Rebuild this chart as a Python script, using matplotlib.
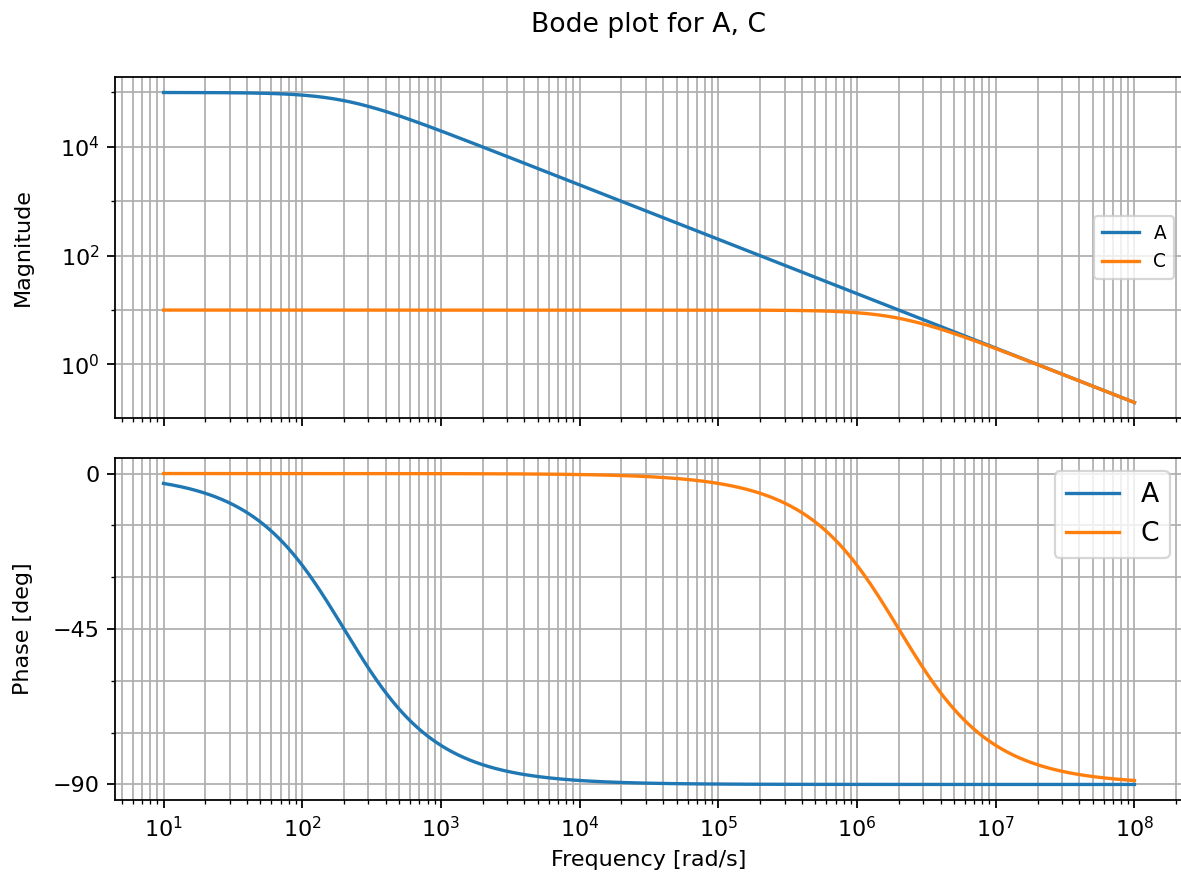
import matplotlib
matplotlib.use("Agg")
import matplotlib.pyplot as plt
import numpy as np
from matplotlib.ticker import MultipleLocator, LogLocator, NullFormatter

# first-order systems: K / (s/p + 1)
names = ["A", "C"]
dc_gain = [1e5, 10.0]
pole_freq = [200.0, 2e6]   # rad/s
colors = ["#1f77b4", "#ff7f0e"]

w_min, w_max = 1e1, 1e8

DPI = 160
W, H = 1181, 886

omega = np.logspace(np.log10(w_min), np.log10(w_max), 1000)

fig = plt.figure(figsize=(W / DPI, H / DPI), dpi=DPI)
ax_mag = fig.add_axes([115 / W, 1 - 418 / H, (1183 - 115) / W, (418 - 77) / H])
ax_phase = fig.add_axes([115 / W, 1 - 800 / H, (1183 - 115) / W, (800 - 458) / H],
                        sharex=ax_mag)

for name, k, p, c in zip(names, dc_gain, pole_freq, colors):
    resp = k / (1j * omega / p + 1)
    ax_mag.loglog(omega, np.abs(resp), color=c, lw=1.5, label=name)
    ax_phase.semilogx(omega, np.degrees(np.angle(resp)), color=c, lw=1.5, label=name)

# magnitude: labels every other decade, grid on the rest
ax_mag.yaxis.set_major_locator(LogLocator(base=100))
ax_mag.yaxis.set_minor_locator(LogLocator(base=10, subs=(1.0,)))
ax_mag.yaxis.set_minor_formatter(NullFormatter())
ax_mag.set_ylabel("Magnitude")
ax_mag.yaxis.set_label_coords((33 - 115) / (1183 - 115), 0.5)
ax_mag.grid(True, which="both")
ax_mag.legend(loc="center right", fontsize="small")
ax_mag.tick_params(labelbottom=False)

ax_phase.set_ylabel("Phase [deg]")
ax_phase.yaxis.set_label_coords((33 - 115) / (1183 - 115), 0.5)
ax_phase.set_xlabel("Frequency [rad/s]")
ax_phase.yaxis.set_major_locator(MultipleLocator(45))
ax_phase.yaxis.set_minor_locator(MultipleLocator(15))
ax_phase.grid(True, which="both")
ax_phase.legend(loc="upper right", fontsize="large")

fig.text(649 / W, 1 - 25 / H, "Bode plot for A, C", ha="center", va="center", fontsize=12)

fig.savefig("out.png", dpi=DPI)
